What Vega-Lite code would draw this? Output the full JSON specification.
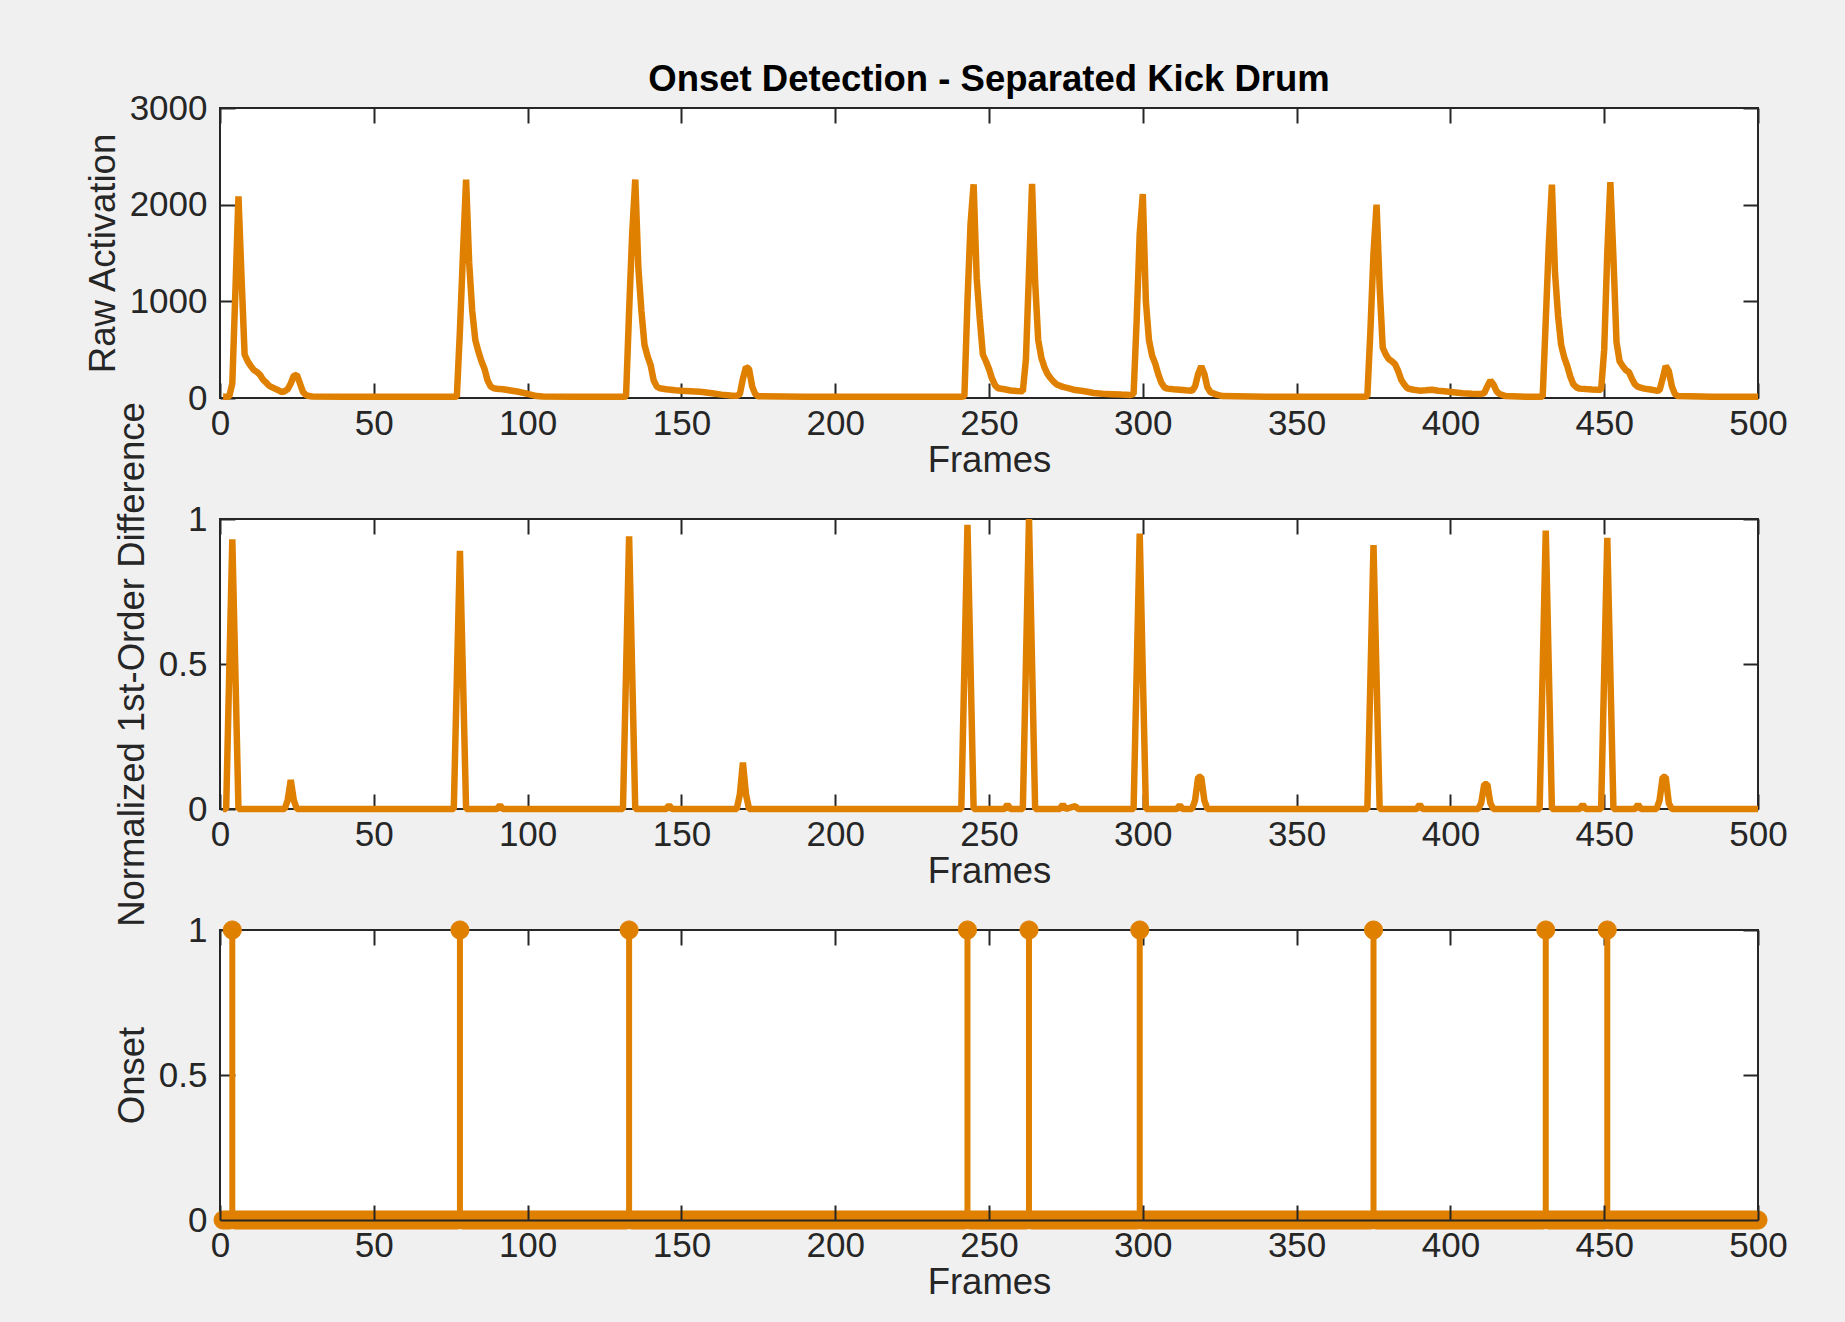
{
  "$schema": "https://vega.github.io/schema/vega-lite/v6.json",
  "background": "#f0f0f0",
  "padding": {"left": 84, "top": 60, "right": 56, "bottom": 23},
  "bounds": "flush",
  "spacing": 121,
  "config": {
    "font": "Liberation Sans",
    "view": {"fill": "white", "stroke": "#262626", "strokeWidth": 2},
    "axis": {
      "domain": false,
      "grid": false,
      "tickColor": "#262626",
      "tickWidth": 2,
      "tickSize": -15,
      "labelFont": "Liberation Sans",
      "labelFontSize": 35,
      "labelColor": "#262626",
      "labelFlush": false,
      "labelOverlap": false,
      "titleFont": "Liberation Sans",
      "titleFontSize": 36.5,
      "titleFontWeight": "normal",
      "titleColor": "#262626"
    },
    "axisBottom": {"labelPadding": 23, "titlePadding": 1},
    "axisLeft": {"labelPadding": 28, "titlePadding": 7}
  },
  "datasets": {
    "raw": [
      {"f":1,"v":12},{"f":2,"v":12},{"f":3,"v":15},{"f":4,"v":150},{"f":5,"v":1100},{"f":6,"v":2085},{"f":7,"v":1250},{"f":8,"v":450},{"f":9,"v":380},{"f":10,"v":330},
      {"f":11,"v":290},{"f":12,"v":270},{"f":13,"v":240},{"f":14,"v":190},{"f":15,"v":160},{"f":16,"v":125},{"f":17,"v":110},{"f":18,"v":95},{"f":19,"v":80},{"f":20,"v":62},
      {"f":21,"v":70},{"f":22,"v":90},{"f":23,"v":150},{"f":24,"v":230},{"f":25,"v":240},{"f":26,"v":150},{"f":27,"v":60},{"f":28,"v":30},{"f":29,"v":20},{"f":30,"v":15},
      {"f":40,"v":13},{"f":50,"v":14},{"f":60,"v":12},{"f":70,"v":13},{"f":76,"v":12},{"f":77,"v":15},{"f":78,"v":700},{"f":79,"v":1500},{"f":80,"v":2260},{"f":81,"v":1400},
      {"f":82,"v":900},{"f":83,"v":600},{"f":84,"v":480},{"f":85,"v":380},{"f":86,"v":300},{"f":87,"v":180},{"f":88,"v":120},{"f":89,"v":100},{"f":90,"v":95},{"f":92,"v":90},
      {"f":95,"v":75},{"f":97,"v":65},{"f":99,"v":50},{"f":101,"v":35},{"f":103,"v":20},{"f":105,"v":15},{"f":115,"v":13},{"f":120,"v":14},{"f":131,"v":12},{"f":132,"v":15},
      {"f":133,"v":900},{"f":134,"v":1700},{"f":135,"v":2260},{"f":136,"v":1350},{"f":137,"v":900},{"f":138,"v":550},{"f":139,"v":430},{"f":140,"v":340},{"f":141,"v":180},{"f":142,"v":120},
      {"f":143,"v":100},{"f":145,"v":90},{"f":148,"v":80},{"f":150,"v":75},{"f":153,"v":70},{"f":156,"v":65},{"f":160,"v":50},{"f":163,"v":35},{"f":166,"v":25},{"f":168,"v":22},
      {"f":169,"v":40},{"f":170,"v":200},{"f":171,"v":320},{"f":172,"v":300},{"f":173,"v":120},{"f":174,"v":40},{"f":175,"v":18},{"f":190,"v":13},{"f":210,"v":12},{"f":230,"v":13},
      {"f":241,"v":12},{"f":242,"v":20},{"f":243,"v":1000},{"f":244,"v":1800},{"f":245,"v":2210},{"f":246,"v":1240},{"f":247,"v":820},{"f":248,"v":450},{"f":249,"v":380},{"f":250,"v":300},
      {"f":251,"v":200},{"f":252,"v":130},{"f":253,"v":100},{"f":255,"v":90},{"f":257,"v":78},{"f":259,"v":72},{"f":261,"v":70},{"f":262,"v":400},{"f":263,"v":1300},{"f":264,"v":2215},
      {"f":265,"v":1200},{"f":266,"v":600},{"f":267,"v":420},{"f":268,"v":320},{"f":269,"v":250},{"f":270,"v":205},{"f":271,"v":170},{"f":272,"v":140},{"f":274,"v":115},{"f":276,"v":100},
      {"f":278,"v":82},{"f":280,"v":75},{"f":282,"v":65},{"f":284,"v":52},{"f":287,"v":45},{"f":290,"v":40},{"f":293,"v":35},{"f":296,"v":32},{"f":297,"v":40},{"f":298,"v":800},
      {"f":299,"v":1700},{"f":300,"v":2110},{"f":301,"v":1000},{"f":302,"v":600},{"f":303,"v":440},{"f":304,"v":360},{"f":305,"v":250},{"f":306,"v":160},{"f":307,"v":110},{"f":308,"v":97},
      {"f":310,"v":90},{"f":312,"v":86},{"f":314,"v":80},{"f":316,"v":75},{"f":317,"v":120},{"f":318,"v":250},{"f":319,"v":330},{"f":320,"v":250},{"f":321,"v":110},{"f":322,"v":60},
      {"f":324,"v":35},{"f":326,"v":20},{"f":340,"v":13},{"f":360,"v":12},{"f":372,"v":12},{"f":373,"v":20},{"f":374,"v":700},{"f":375,"v":1500},{"f":376,"v":2000},{"f":377,"v":1150},
      {"f":378,"v":520},{"f":379,"v":450},{"f":380,"v":400},{"f":381,"v":380},{"f":382,"v":350},{"f":383,"v":280},{"f":384,"v":190},{"f":385,"v":140},{"f":386,"v":100},{"f":388,"v":85},
      {"f":390,"v":76},{"f":392,"v":80},{"f":394,"v":86},{"f":396,"v":75},{"f":398,"v":69},{"f":401,"v":60},{"f":404,"v":50},{"f":407,"v":45},{"f":410,"v":42},{"f":411,"v":50},
      {"f":412,"v":120},{"f":413,"v":180},{"f":414,"v":140},{"f":415,"v":70},{"f":416,"v":41},{"f":418,"v":20},{"f":425,"v":13},{"f":429,"v":12},{"f":430,"v":15},{"f":431,"v":800},
      {"f":432,"v":1600},{"f":433,"v":2207},{"f":434,"v":1300},{"f":435,"v":850},{"f":436,"v":550},{"f":437,"v":420},{"f":438,"v":330},{"f":439,"v":220},{"f":440,"v":140},{"f":441,"v":110},
      {"f":442,"v":97},{"f":444,"v":92},{"f":446,"v":88},{"f":448,"v":86},{"f":449,"v":85},{"f":450,"v":500},{"f":451,"v":1500},{"f":452,"v":2234},{"f":453,"v":1450},{"f":454,"v":580},
      {"f":455,"v":380},{"f":456,"v":330},{"f":457,"v":290},{"f":458,"v":270},{"f":459,"v":200},{"f":460,"v":140},{"f":461,"v":115},{"f":463,"v":97},{"f":465,"v":88},{"f":467,"v":76},
      {"f":468,"v":80},{"f":469,"v":200},{"f":470,"v":330},{"f":471,"v":280},{"f":472,"v":120},{"f":473,"v":40},{"f":474,"v":20},{"f":485,"v":13},{"f":500,"v":12}
    ],
    "diff": [
      {"f":1,"v":0},{"f":2,"v":0},{"f":3,"v":0.47},{"f":4,"v":0.93},{"f":5,"v":0.47},{"f":6,"v":0},{"f":21,"v":0},{"f":22,"v":0.03},{"f":23,"v":0.1},{"f":24,"v":0.03},
      {"f":25,"v":0},{"f":76,"v":0},{"f":77,"v":0.45},{"f":78,"v":0.89},{"f":79,"v":0.45},{"f":80,"v":0},{"f":90,"v":0},{"f":91,"v":0.012},{"f":92,"v":0},{"f":131,"v":0},
      {"f":132,"v":0.47},{"f":133,"v":0.94},{"f":134,"v":0.47},{"f":135,"v":0},{"f":145,"v":0},{"f":146,"v":0.012},{"f":147,"v":0},{"f":168,"v":0},{"f":169,"v":0.05},{"f":170,"v":0.16},
      {"f":171,"v":0.05},{"f":172,"v":0},{"f":241,"v":0},{"f":242,"v":0.49},{"f":243,"v":0.98},{"f":244,"v":0.49},{"f":245,"v":0},{"f":255,"v":0},{"f":256,"v":0.015},{"f":257,"v":0},
      {"f":261,"v":0},{"f":262,"v":0.5},{"f":263,"v":1},{"f":264,"v":0.5},{"f":265,"v":0},{"f":273,"v":0},{"f":274,"v":0.015},{"f":275,"v":0},{"f":278,"v":0.01},{"f":279,"v":0},
      {"f":297,"v":0},{"f":298,"v":0.47},{"f":299,"v":0.95},{"f":300,"v":0.47},{"f":301,"v":0},{"f":311,"v":0},{"f":312,"v":0.012},{"f":313,"v":0},{"f":316,"v":0},{"f":317,"v":0.03},
      {"f":318,"v":0.11},{"f":319,"v":0.11},{"f":320,"v":0.03},{"f":321,"v":0},{"f":373,"v":0},{"f":374,"v":0.45},{"f":375,"v":0.91},{"f":376,"v":0.45},{"f":377,"v":0},{"f":389,"v":0},
      {"f":390,"v":0.015},{"f":391,"v":0},{"f":409,"v":0},{"f":410,"v":0.02},{"f":411,"v":0.085},{"f":412,"v":0.085},{"f":413,"v":0.02},{"f":414,"v":0},{"f":429,"v":0},{"f":430,"v":0.48},
      {"f":431,"v":0.96},{"f":432,"v":0.48},{"f":433,"v":0},{"f":442,"v":0},{"f":443,"v":0.015},{"f":444,"v":0},{"f":449,"v":0},{"f":450,"v":0.47},{"f":451,"v":0.935},{"f":452,"v":0.47},
      {"f":453,"v":0},{"f":460,"v":0},{"f":461,"v":0.015},{"f":462,"v":0},{"f":467,"v":0},{"f":468,"v":0.03},{"f":469,"v":0.11},{"f":470,"v":0.11},{"f":471,"v":0.02},{"f":472,"v":0},
      {"f":500,"v":0}
    ],
    "onset": [
      {"f":1,"o":0},{"f":2,"o":0},{"f":3,"o":0},{"f":4,"o":1},{"f":5,"o":0},{"f":6,"o":0},{"f":7,"o":0},{"f":8,"o":0},{"f":9,"o":0},{"f":10,"o":0},
      {"f":11,"o":0},{"f":12,"o":0},{"f":13,"o":0},{"f":14,"o":0},{"f":15,"o":0},{"f":16,"o":0},{"f":17,"o":0},{"f":18,"o":0},{"f":19,"o":0},{"f":20,"o":0},
      {"f":21,"o":0},{"f":22,"o":0},{"f":23,"o":0},{"f":24,"o":0},{"f":25,"o":0},{"f":26,"o":0},{"f":27,"o":0},{"f":28,"o":0},{"f":29,"o":0},{"f":30,"o":0},
      {"f":31,"o":0},{"f":32,"o":0},{"f":33,"o":0},{"f":34,"o":0},{"f":35,"o":0},{"f":36,"o":0},{"f":37,"o":0},{"f":38,"o":0},{"f":39,"o":0},{"f":40,"o":0},
      {"f":41,"o":0},{"f":42,"o":0},{"f":43,"o":0},{"f":44,"o":0},{"f":45,"o":0},{"f":46,"o":0},{"f":47,"o":0},{"f":48,"o":0},{"f":49,"o":0},{"f":50,"o":0},
      {"f":51,"o":0},{"f":52,"o":0},{"f":53,"o":0},{"f":54,"o":0},{"f":55,"o":0},{"f":56,"o":0},{"f":57,"o":0},{"f":58,"o":0},{"f":59,"o":0},{"f":60,"o":0},
      {"f":61,"o":0},{"f":62,"o":0},{"f":63,"o":0},{"f":64,"o":0},{"f":65,"o":0},{"f":66,"o":0},{"f":67,"o":0},{"f":68,"o":0},{"f":69,"o":0},{"f":70,"o":0},
      {"f":71,"o":0},{"f":72,"o":0},{"f":73,"o":0},{"f":74,"o":0},{"f":75,"o":0},{"f":76,"o":0},{"f":77,"o":0},{"f":78,"o":1},{"f":79,"o":0},{"f":80,"o":0},
      {"f":81,"o":0},{"f":82,"o":0},{"f":83,"o":0},{"f":84,"o":0},{"f":85,"o":0},{"f":86,"o":0},{"f":87,"o":0},{"f":88,"o":0},{"f":89,"o":0},{"f":90,"o":0},
      {"f":91,"o":0},{"f":92,"o":0},{"f":93,"o":0},{"f":94,"o":0},{"f":95,"o":0},{"f":96,"o":0},{"f":97,"o":0},{"f":98,"o":0},{"f":99,"o":0},{"f":100,"o":0},
      {"f":101,"o":0},{"f":102,"o":0},{"f":103,"o":0},{"f":104,"o":0},{"f":105,"o":0},{"f":106,"o":0},{"f":107,"o":0},{"f":108,"o":0},{"f":109,"o":0},{"f":110,"o":0},
      {"f":111,"o":0},{"f":112,"o":0},{"f":113,"o":0},{"f":114,"o":0},{"f":115,"o":0},{"f":116,"o":0},{"f":117,"o":0},{"f":118,"o":0},{"f":119,"o":0},{"f":120,"o":0},
      {"f":121,"o":0},{"f":122,"o":0},{"f":123,"o":0},{"f":124,"o":0},{"f":125,"o":0},{"f":126,"o":0},{"f":127,"o":0},{"f":128,"o":0},{"f":129,"o":0},{"f":130,"o":0},
      {"f":131,"o":0},{"f":132,"o":0},{"f":133,"o":1},{"f":134,"o":0},{"f":135,"o":0},{"f":136,"o":0},{"f":137,"o":0},{"f":138,"o":0},{"f":139,"o":0},{"f":140,"o":0},
      {"f":141,"o":0},{"f":142,"o":0},{"f":143,"o":0},{"f":144,"o":0},{"f":145,"o":0},{"f":146,"o":0},{"f":147,"o":0},{"f":148,"o":0},{"f":149,"o":0},{"f":150,"o":0},
      {"f":151,"o":0},{"f":152,"o":0},{"f":153,"o":0},{"f":154,"o":0},{"f":155,"o":0},{"f":156,"o":0},{"f":157,"o":0},{"f":158,"o":0},{"f":159,"o":0},{"f":160,"o":0},
      {"f":161,"o":0},{"f":162,"o":0},{"f":163,"o":0},{"f":164,"o":0},{"f":165,"o":0},{"f":166,"o":0},{"f":167,"o":0},{"f":168,"o":0},{"f":169,"o":0},{"f":170,"o":0},
      {"f":171,"o":0},{"f":172,"o":0},{"f":173,"o":0},{"f":174,"o":0},{"f":175,"o":0},{"f":176,"o":0},{"f":177,"o":0},{"f":178,"o":0},{"f":179,"o":0},{"f":180,"o":0},
      {"f":181,"o":0},{"f":182,"o":0},{"f":183,"o":0},{"f":184,"o":0},{"f":185,"o":0},{"f":186,"o":0},{"f":187,"o":0},{"f":188,"o":0},{"f":189,"o":0},{"f":190,"o":0},
      {"f":191,"o":0},{"f":192,"o":0},{"f":193,"o":0},{"f":194,"o":0},{"f":195,"o":0},{"f":196,"o":0},{"f":197,"o":0},{"f":198,"o":0},{"f":199,"o":0},{"f":200,"o":0},
      {"f":201,"o":0},{"f":202,"o":0},{"f":203,"o":0},{"f":204,"o":0},{"f":205,"o":0},{"f":206,"o":0},{"f":207,"o":0},{"f":208,"o":0},{"f":209,"o":0},{"f":210,"o":0},
      {"f":211,"o":0},{"f":212,"o":0},{"f":213,"o":0},{"f":214,"o":0},{"f":215,"o":0},{"f":216,"o":0},{"f":217,"o":0},{"f":218,"o":0},{"f":219,"o":0},{"f":220,"o":0},
      {"f":221,"o":0},{"f":222,"o":0},{"f":223,"o":0},{"f":224,"o":0},{"f":225,"o":0},{"f":226,"o":0},{"f":227,"o":0},{"f":228,"o":0},{"f":229,"o":0},{"f":230,"o":0},
      {"f":231,"o":0},{"f":232,"o":0},{"f":233,"o":0},{"f":234,"o":0},{"f":235,"o":0},{"f":236,"o":0},{"f":237,"o":0},{"f":238,"o":0},{"f":239,"o":0},{"f":240,"o":0},
      {"f":241,"o":0},{"f":242,"o":0},{"f":243,"o":1},{"f":244,"o":0},{"f":245,"o":0},{"f":246,"o":0},{"f":247,"o":0},{"f":248,"o":0},{"f":249,"o":0},{"f":250,"o":0},
      {"f":251,"o":0},{"f":252,"o":0},{"f":253,"o":0},{"f":254,"o":0},{"f":255,"o":0},{"f":256,"o":0},{"f":257,"o":0},{"f":258,"o":0},{"f":259,"o":0},{"f":260,"o":0},
      {"f":261,"o":0},{"f":262,"o":0},{"f":263,"o":1},{"f":264,"o":0},{"f":265,"o":0},{"f":266,"o":0},{"f":267,"o":0},{"f":268,"o":0},{"f":269,"o":0},{"f":270,"o":0},
      {"f":271,"o":0},{"f":272,"o":0},{"f":273,"o":0},{"f":274,"o":0},{"f":275,"o":0},{"f":276,"o":0},{"f":277,"o":0},{"f":278,"o":0},{"f":279,"o":0},{"f":280,"o":0},
      {"f":281,"o":0},{"f":282,"o":0},{"f":283,"o":0},{"f":284,"o":0},{"f":285,"o":0},{"f":286,"o":0},{"f":287,"o":0},{"f":288,"o":0},{"f":289,"o":0},{"f":290,"o":0},
      {"f":291,"o":0},{"f":292,"o":0},{"f":293,"o":0},{"f":294,"o":0},{"f":295,"o":0},{"f":296,"o":0},{"f":297,"o":0},{"f":298,"o":0},{"f":299,"o":1},{"f":300,"o":0},
      {"f":301,"o":0},{"f":302,"o":0},{"f":303,"o":0},{"f":304,"o":0},{"f":305,"o":0},{"f":306,"o":0},{"f":307,"o":0},{"f":308,"o":0},{"f":309,"o":0},{"f":310,"o":0},
      {"f":311,"o":0},{"f":312,"o":0},{"f":313,"o":0},{"f":314,"o":0},{"f":315,"o":0},{"f":316,"o":0},{"f":317,"o":0},{"f":318,"o":0},{"f":319,"o":0},{"f":320,"o":0},
      {"f":321,"o":0},{"f":322,"o":0},{"f":323,"o":0},{"f":324,"o":0},{"f":325,"o":0},{"f":326,"o":0},{"f":327,"o":0},{"f":328,"o":0},{"f":329,"o":0},{"f":330,"o":0},
      {"f":331,"o":0},{"f":332,"o":0},{"f":333,"o":0},{"f":334,"o":0},{"f":335,"o":0},{"f":336,"o":0},{"f":337,"o":0},{"f":338,"o":0},{"f":339,"o":0},{"f":340,"o":0},
      {"f":341,"o":0},{"f":342,"o":0},{"f":343,"o":0},{"f":344,"o":0},{"f":345,"o":0},{"f":346,"o":0},{"f":347,"o":0},{"f":348,"o":0},{"f":349,"o":0},{"f":350,"o":0},
      {"f":351,"o":0},{"f":352,"o":0},{"f":353,"o":0},{"f":354,"o":0},{"f":355,"o":0},{"f":356,"o":0},{"f":357,"o":0},{"f":358,"o":0},{"f":359,"o":0},{"f":360,"o":0},
      {"f":361,"o":0},{"f":362,"o":0},{"f":363,"o":0},{"f":364,"o":0},{"f":365,"o":0},{"f":366,"o":0},{"f":367,"o":0},{"f":368,"o":0},{"f":369,"o":0},{"f":370,"o":0},
      {"f":371,"o":0},{"f":372,"o":0},{"f":373,"o":0},{"f":374,"o":0},{"f":375,"o":1},{"f":376,"o":0},{"f":377,"o":0},{"f":378,"o":0},{"f":379,"o":0},{"f":380,"o":0},
      {"f":381,"o":0},{"f":382,"o":0},{"f":383,"o":0},{"f":384,"o":0},{"f":385,"o":0},{"f":386,"o":0},{"f":387,"o":0},{"f":388,"o":0},{"f":389,"o":0},{"f":390,"o":0},
      {"f":391,"o":0},{"f":392,"o":0},{"f":393,"o":0},{"f":394,"o":0},{"f":395,"o":0},{"f":396,"o":0},{"f":397,"o":0},{"f":398,"o":0},{"f":399,"o":0},{"f":400,"o":0},
      {"f":401,"o":0},{"f":402,"o":0},{"f":403,"o":0},{"f":404,"o":0},{"f":405,"o":0},{"f":406,"o":0},{"f":407,"o":0},{"f":408,"o":0},{"f":409,"o":0},{"f":410,"o":0},
      {"f":411,"o":0},{"f":412,"o":0},{"f":413,"o":0},{"f":414,"o":0},{"f":415,"o":0},{"f":416,"o":0},{"f":417,"o":0},{"f":418,"o":0},{"f":419,"o":0},{"f":420,"o":0},
      {"f":421,"o":0},{"f":422,"o":0},{"f":423,"o":0},{"f":424,"o":0},{"f":425,"o":0},{"f":426,"o":0},{"f":427,"o":0},{"f":428,"o":0},{"f":429,"o":0},{"f":430,"o":0},
      {"f":431,"o":1},{"f":432,"o":0},{"f":433,"o":0},{"f":434,"o":0},{"f":435,"o":0},{"f":436,"o":0},{"f":437,"o":0},{"f":438,"o":0},{"f":439,"o":0},{"f":440,"o":0},
      {"f":441,"o":0},{"f":442,"o":0},{"f":443,"o":0},{"f":444,"o":0},{"f":445,"o":0},{"f":446,"o":0},{"f":447,"o":0},{"f":448,"o":0},{"f":449,"o":0},{"f":450,"o":0},
      {"f":451,"o":1},{"f":452,"o":0},{"f":453,"o":0},{"f":454,"o":0},{"f":455,"o":0},{"f":456,"o":0},{"f":457,"o":0},{"f":458,"o":0},{"f":459,"o":0},{"f":460,"o":0},
      {"f":461,"o":0},{"f":462,"o":0},{"f":463,"o":0},{"f":464,"o":0},{"f":465,"o":0},{"f":466,"o":0},{"f":467,"o":0},{"f":468,"o":0},{"f":469,"o":0},{"f":470,"o":0},
      {"f":471,"o":0},{"f":472,"o":0},{"f":473,"o":0},{"f":474,"o":0},{"f":475,"o":0},{"f":476,"o":0},{"f":477,"o":0},{"f":478,"o":0},{"f":479,"o":0},{"f":480,"o":0},
      {"f":481,"o":0},{"f":482,"o":0},{"f":483,"o":0},{"f":484,"o":0},{"f":485,"o":0},{"f":486,"o":0},{"f":487,"o":0},{"f":488,"o":0},{"f":489,"o":0},{"f":490,"o":0},
      {"f":491,"o":0},{"f":492,"o":0},{"f":493,"o":0},{"f":494,"o":0},{"f":495,"o":0},{"f":496,"o":0},{"f":497,"o":0},{"f":498,"o":0},{"f":499,"o":0},{"f":500,"o":0}
    ]
  },
  "vconcat": [
    {
      "width": 1538,
      "height": 290,
      "title": {"text": "Onset Detection - Separated Kick Drum", "font": "Liberation Sans", "fontSize": 36.5, "fontWeight": "bold", "color": "#000000", "frame": "group", "anchor": "middle", "baseline": "alphabetic", "offset": -36},
      "data": {"name": "raw"},
      "layer": [
        {
          "mark": {"type": "line", "color": "#e08000", "strokeWidth": 6.5, "strokeJoin": "bevel"},
          "encoding": {
            "x": {"field": "f", "type": "quantitative", "scale": {"domain": [0, 500], "nice": false, "zero": false},
                  "axis": {"orient": "bottom", "values": [0,50,100,150,200,250,300,350,400,450,500], "format": "d", "title": "Frames"}},
            "y": {"field": "v", "type": "quantitative", "scale": {"domain": [0, 3000], "nice": false},
                  "axis": {"orient": "left", "values": [0,1000,2000,3000], "format": "d", "title": "Raw Activation"}}
          }
        },
        {
          "mark": {"type": "line", "opacity": 0},
          "encoding": {
            "x": {"field": "f", "type": "quantitative", "axis": {"orient": "top", "values": [0,50,100,150,200,250,300,350,400,450,500], "labels": false, "title": null}},
            "y": {"field": "v", "type": "quantitative", "axis": {"orient": "right", "values": [0,1000,2000,3000], "labels": false, "title": null}}
          }
        }
      ],
      "resolve": {"axis": {"x": "independent", "y": "independent"}}
    },
    {
      "width": 1538,
      "height": 290,
      "data": {"name": "diff"},
      "layer": [
        {
          "mark": {"type": "line", "color": "#e08000", "strokeWidth": 6.5, "strokeJoin": "bevel"},
          "encoding": {
            "x": {"field": "f", "type": "quantitative", "scale": {"domain": [0, 500], "nice": false, "zero": false},
                  "axis": {"orient": "bottom", "values": [0,50,100,150,200,250,300,350,400,450,500], "format": "d", "title": "Frames"}},
            "y": {"field": "v", "type": "quantitative", "scale": {"domain": [0, 1], "nice": false},
                  "axis": {"orient": "left", "values": [0,0.5,1], "format": ".1~f", "title": "Normalized 1st-Order Difference"}}
          }
        },
        {
          "mark": {"type": "line", "opacity": 0},
          "encoding": {
            "x": {"field": "f", "type": "quantitative", "axis": {"orient": "top", "values": [0,50,100,150,200,250,300,350,400,450,500], "labels": false, "title": null}},
            "y": {"field": "v", "type": "quantitative", "axis": {"orient": "right", "values": [0,0.5,1], "labels": false, "title": null}}
          }
        }
      ],
      "resolve": {"axis": {"x": "independent", "y": "independent"}}
    },
    {
      "width": 1538,
      "height": 290,
      "data": {"name": "onset"},
      "layer": [
        {
          "mark": {"type": "rule", "color": "#e08000", "strokeWidth": 6},
          "encoding": {
            "x": {"field": "f", "type": "quantitative", "scale": {"domain": [0, 500], "nice": false, "zero": false},
                  "axis": {"orient": "bottom", "values": [0,50,100,150,200,250,300,350,400,450,500], "format": "d", "title": "Frames", "zindex": 1, "domain": true, "domainColor": "#262626", "domainWidth": 2}},
            "y": {"field": "o", "type": "quantitative", "scale": {"domain": [0, 1], "nice": false},
                  "axis": {"orient": "left", "values": [0,0.5,1], "format": ".1~f", "title": "Onset"}},
            "y2": {"datum": 0}
          }
        },
        {
          "mark": {"type": "point", "shape": "circle", "filled": true, "color": "#e08000", "size": 330, "opacity": 1, "stroke": "#e08000", "strokeWidth": 1},
          "encoding": {
            "x": {"field": "f", "type": "quantitative", "axis": null},
            "y": {"field": "o", "type": "quantitative", "axis": null}
          }
        },
        {
          "mark": {"type": "point", "opacity": 0},
          "encoding": {
            "x": {"field": "f", "type": "quantitative", "axis": {"orient": "top", "values": [0,50,100,150,200,250,300,350,400,450,500], "labels": false, "title": null}},
            "y": {"field": "o", "type": "quantitative", "axis": {"orient": "right", "values": [0,0.5,1], "labels": false, "title": null}}
          }
        }
      ],
      "resolve": {"axis": {"x": "independent", "y": "independent"}}
    }
  ]
}
